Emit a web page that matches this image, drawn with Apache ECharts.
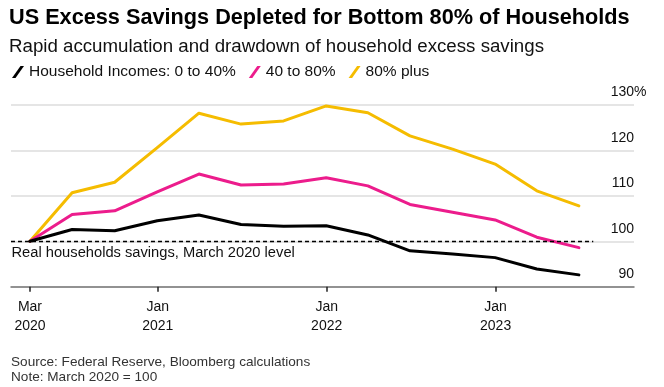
<!DOCTYPE html>
<html>
<head>
<meta charset="utf-8">
<script src="https://cdn.jsdelivr.net/npm/echarts@6/dist/echarts.min.js"></script>
<style>html,body{margin:0;padding:0;background:#fff}#c{width:664px;height:387px}</style>
</head>
<body>
<div id="c"></div>
<script>
// quarter-end dates
var dates = ['2020-03-31','2020-06-30','2020-09-30','2020-12-31','2021-03-31','2021-06-30','2021-09-30','2021-12-31','2022-03-31','2022-06-30','2022-09-30','2022-12-31','2023-03-31','2023-06-30'];
var seriesNames = ['Household Incomes: 0 to 40%', '40 to 80%', '80% plus'];
var low = [100, 102.6, 102.3, 104.5, 105.8, 103.7, 103.3, 103.4, 101.4, 97.9, 97.2, 96.4, 93.9, 92.6];
var mid = [100, 105.9, 106.7, 110.9, 114.8, 112.4, 112.6, 114.0, 112.2, 108.1, 106.4, 104.7, 100.9, 98.6];
var top80 = [100, 110.7, 113.0, 120.6, 128.2, 125.8, 126.5, 129.8, 128.3, 123.2, 120.3, 117.0, 111.1, 107.8];
var tickDates = ['2020-03-31','2021-01-01','2022-01-01','2023-01-01'];
var tickLabels = ['Mar\n2020','Jan\n2021','Jan\n2022','Jan\n2023'];
var yTicks = [90, 100, 110, 120, 130];
var baseline = 100;
var baselineEnd = '2023-07-31';
var axisMin = '2020-02-19';
var axisMax = '2023-10-27';

function ts(s){ var p = s.split('-'); return Date.UTC(+p[0], +p[1]-1, +p[2]); }
var tickTs = tickDates.map(ts);
function pairs(arr){ return arr.map(function(v,i){ return [ts(dates[i]), v]; }); }

var colors = ['#000000', '#ec1c8c', '#f5bc00'];
var FONT = 'Liberation Sans, Arial, sans-serif';
var slash = 'path://M0,12 L8.5,0 L12,0 L3.5,12 Z';

var chart = echarts.init(document.getElementById('c'), null, {renderer:'canvas'});
chart.setOption({
  backgroundColor: '#fff',
  animation: false,
  textStyle: {fontFamily: FONT},
  title: [
    {text: 'US Excess Savings Depleted for Bottom 80% of Households', left: 9, top: 7, padding: 0,
     textStyle: {fontSize: 21.7, fontWeight: 'bold', color: '#000', fontFamily: FONT}},
    {text: 'Rapid accumulation and drawdown of household excess savings', left: 9, top: 37, padding: 0,
     textStyle: {fontSize: 18.7, fontWeight: 'normal', color: '#111', fontFamily: FONT}},
    {text: 'Source: Federal Reserve, Bloomberg calculations\nNote: March 2020 = 100', left: 11, top: 355, padding: 0,
     textStyle: {fontSize: 13.6, fontWeight: 'normal', color: '#333', lineHeight: 15, fontFamily: FONT}}
  ],
  legend: {
    left: 12, top: 64, padding: 0, itemWidth: 12, itemHeight: 12, itemGap: 13,
    icon: slash,
    textStyle: {fontSize: 15.5, color: '#111', fontFamily: FONT},
    data: seriesNames
  },
  grid: {left: 11, right: 30, top: 105, bottom: 100.3, containLabel: false},
  xAxis: {
    type: 'value', min: ts(axisMin), max: ts(axisMax),
    axisLine: {show: true, lineStyle: {color: '#777', width: 1.5}},
    axisTick: {show: true, length: 5, lineStyle: {color: '#222', width: 1.5}, customValues: tickTs},
    axisLabel: {
      customValues: tickTs, margin: 11, fontSize: 14, lineHeight: 19, color: '#111', fontFamily: FONT,
      formatter: function(v){ var i = tickTs.indexOf(v); return i >= 0 ? tickLabels[i] : ''; }
    },
    splitLine: {show: false}
  },
  yAxis: {
    type: 'value', position: 'right', min: yTicks[0], max: yTicks[yTicks.length-1], interval: 10,
    axisLine: {show: false}, axisTick: {show: false},
    splitLine: {show: true, lineStyle: {color: '#dcdcdc', width: 1.5}},
    axisLabel: {
      inside: false, margin: -30, align: 'left', verticalAlign: 'bottom', lineHeight: 17,
      padding: [0, 0, 4, 0], fontSize: 14, color: '#111', fontFamily: FONT,
      formatter: function(v){ return v === yTicks[yTicks.length-1] ? '{n|' + v + '}{p|%}' : '{n|' + v + '}'; },
      rich: {n: {fontSize: 14, color: '#111', width: 30, align: 'right', fontFamily: FONT},
             p: {fontSize: 14, color: '#111', align: 'right', fontFamily: FONT}}
    }
  },
  graphic: [
    {type: 'text', left: 11.5, top: 245, style: {text: 'Real households savings, March 2020 level', fontSize: 14.7, fill: '#111', fontFamily: FONT}}
  ],
  series: [
    {name: seriesNames[0], type: 'line', data: pairs(low), color: colors[0], symbol: 'none', z: 4,
     lineStyle: {width: 3, color: colors[0], join: 'round', cap: 'round'},
     markLine: {silent: true, symbol: 'none', label: {show: false},
       lineStyle: {type: [4, 3], color: '#000', width: 1.3},
       data: [[{coord: [ts(axisMin), baseline]}, {coord: [ts(baselineEnd), baseline]}]]}},
    {name: seriesNames[1], type: 'line', data: pairs(mid), color: colors[1], symbol: 'none', z: 3,
     lineStyle: {width: 3, color: colors[1], join: 'round', cap: 'round'}},
    {name: seriesNames[2], type: 'line', data: pairs(top80), color: colors[2], symbol: 'none', z: 2,
     lineStyle: {width: 3, color: colors[2], join: 'round', cap: 'round'}}
  ]
});
</script>
</body>
</html>
